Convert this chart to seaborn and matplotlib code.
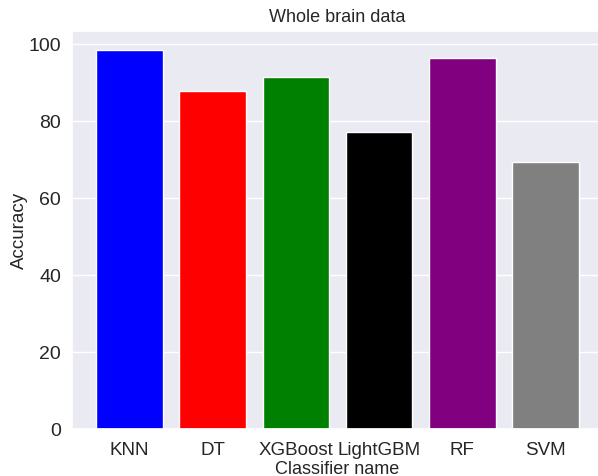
import pandas as pd
import seaborn as sns
import matplotlib.pyplot as plt

# Classifier accuracies
classifiers = ["KNN", "DT", "XGBoost", "LightGBM", "RF", "SVM"]
accuracy = [98.6, 87.8, 91.4, 77.3, 96.4, 69.3]
bar_colors = ["blue", "red", "green", "black", "purple", "gray"]

df = pd.DataFrame({"Classifier name": classifiers, "Accuracy": accuracy})

sns.set_theme(style="darkgrid")
plt.rcParams['font.family'] = ['Liberation Sans', 'DejaVu Sans']

fig = plt.figure(figsize=(5.98, 4.76), dpi=100)
ax = fig.add_axes([0.1204, 0.0981, 0.888, 0.8374])
sns.barplot(data=df, x="Classifier name", y="Accuracy", hue="Classifier name",
            palette=bar_colors, saturation=1, width=0.8, legend=False, ax=ax)
for p in ax.patches:
    p.set_edgecolor("white")
ax.set_title("Whole brain data", fontsize=13)
ax.set_xlabel("Classifier name", fontsize=13, labelpad=1)
ax.set_ylabel("Accuracy", fontsize=13.5, labelpad=0)
ax.tick_params(axis="x", labelsize=13.5, pad=3.5)
ax.tick_params(axis="y", labelsize=14, pad=2)
ax.set_xlim(-0.69, 5.69)
ax.set_ylim(0, max(accuracy) * 1.05)
plt.savefig("out.png")
